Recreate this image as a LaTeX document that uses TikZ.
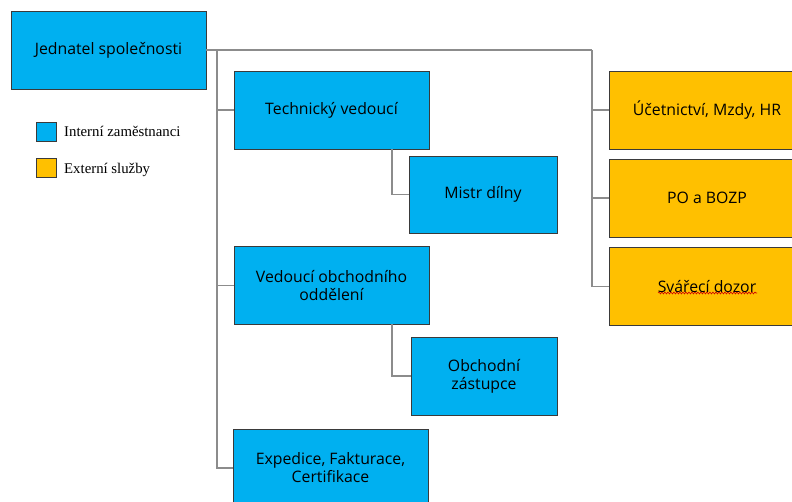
\documentclass[tikz,border=0pt]{standalone}
\usepackage{fontspec}
\setmainfont{Open Sans}
\newfontfamily\legfont{Liberation Serif}
\usetikzlibrary{decorations.pathmorphing}
\definecolor{intblue}{HTML}{00B0F0}
\definecolor{extorange}{HTML}{FFC000}
\definecolor{boxedge}{HTML}{3A3A3A}
\definecolor{connc}{HTML}{8C8C8C}
\tikzset{
  box/.style={draw=boxedge, line width=0.9pt, minimum width=195pt, minimum height=78pt,
    align=center, inner sep=2pt, font=\fontsize{15.8}{18}\selectfont, text=black},
  ibox/.style={box, fill=intblue},
  ebox/.style={box, fill=extorange},
  conn/.style={draw=connc, line width=1.6pt},
  legsq/.style={draw=boxedge, line width=0.9pt, minimum width=20pt, minimum height=19pt, inner sep=0pt},
  legtxt/.style={anchor=west, font=\legfont\fontsize{14.8}{17}\selectfont, inner sep=0pt},
}
\begin{document}
\begin{tikzpicture}[x=1pt,y=-1pt]
\useasboundingbox (0,0) rectangle (792,501);
\clip (0,0) rectangle (792,501);
\fill[white] (0,0) rectangle (792,501);
% nodes
\node[ibox] (j) at (108.5,50) {Jednatel společnosti};
\node[ibox] (tv) at (331.5,110) {Technický vedoucí};
\node[ibox, minimum width=148pt, minimum height=77pt] (md) at (483,194.5) {Mistr dílny};
\node[ibox] (vo) at (331.5,285.5) {Vedoucí obchodního\\oddělení};
\node[ibox, minimum width=146pt, minimum height=78pt] (oz) at (484,376) {Obchodní\\zástupce};
\node[ibox] (ex) at (330.5,468) {Expedice, Fakturace,\\Certifikace};
\node[ebox, minimum width=196pt] (r1) at (707,110) {Účetnictví, Mzdy, HR};
\node[ebox, minimum width=196pt] (r2) at (707,198) {PO a BOZP};
\node[ebox, minimum width=196pt] (r3) at (707,286.5) {Svářecí dozor};
% wavy underline (spell-check mark)
\coordinate (wu1) at (658,293);
\coordinate (wu2) at (757,293);
\draw[red!80!black, line width=0.6pt, decorate, decoration={snake, amplitude=0.9pt, segment length=3pt}] (wu1) -- (wu2);
% connectors
\coordinate (lt) at (217,50);
\coordinate (rt) at (592,50);
\draw[conn] (j.east) -- (rt);
\draw[conn] (lt) -- (lt |- ex.west) -- (ex.west);
\draw[conn] (lt |- tv.west) -- (tv.west);
\draw[conn] (lt |- vo.west) -- (vo.west);
\draw[conn] (rt) -- (rt |- r3.west) -- (r3.west);
\draw[conn] (rt |- r1.west) -- (r1.west);
\draw[conn] (rt |- r2.west) -- (r2.west);
\coordinate (tm) at (392,149);
\coordinate (vm) at (392,324);
\draw[conn] (tm) |- (md.west);
\draw[conn] (vm) |- (oz.west);
% legend
\node[legsq, fill=intblue] (l1) at (46,131.5) {};
\node[legtxt] (l1t) at (64,131) {Interní zaměstnanci};
\node[legsq, fill=extorange] (l2) at (46,167.5) {};
\node[legtxt] (l2t) at (64,170) {Externí služby};
\end{tikzpicture}
\end{document}
